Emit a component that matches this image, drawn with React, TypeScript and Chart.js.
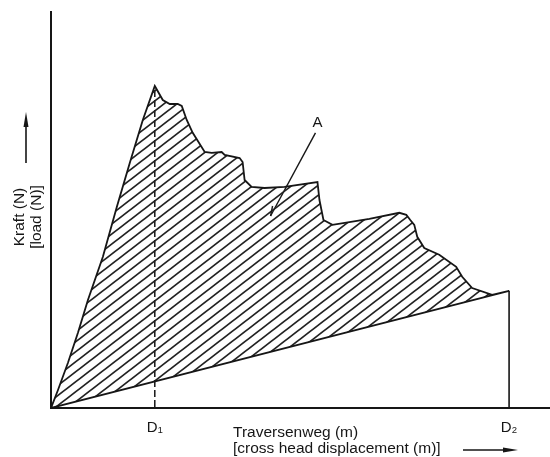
import React, { useEffect, useRef } from "react";
import { Chart, registerables } from "chart.js";

Chart.register(...registerables);

// Load–displacement curve (upper boundary of hatched area A)
const CURVE_X = [0, 1.4, 3.4, 5.4, 7.4, 10.4, 13.2, 15.8, 18.4, 20.8, 22.4, 23.8, 25.4, 26.2, 27.2, 28.4, 30.8, 32.2, 34.2, 34.8, 37.8, 38.4, 38.8, 40.2, 42.8, 46.8, 53.4, 53.8, 54.6, 56.4, 63.8, 69.8, 71.2, 72.0, 72.8, 73.4, 74.8, 77.8, 81.2, 82.4, 84.4, 88.4, 91.8];
const CURVE_Y = [0, 4.5, 11.3, 18.8, 27.0, 37.8, 50.3, 61.3, 72.0, 80.5, 77.0, 76.0, 76.0, 75.5, 72.0, 68.8, 64.0, 63.8, 64.0, 63.3, 62.5, 61.5, 57.0, 55.3, 55.0, 55.3, 56.5, 52.0, 47.0, 45.8, 47.3, 48.8, 48.3, 47.0, 45.8, 42.8, 40.0, 38.3, 35.3, 32.8, 30.0, 28.3, 29.3];
// Unloading secant back to origin (lower boundary of area A)
const SECANT_X = [0];
const SECANT_Y = [0];
// Vertical drop at D1 (peak) and D2 (end)
const D1_LINE_X = [20.8, 20.8];
const D1_LINE_Y = [79.5, 0];
const D2_LINE_X = [91.8, 91.8];
const D2_LINE_Y = [29.3, 0];
// Leader line to area label "A"
const LEADER_X = [53.0, 44.0];
const LEADER_Y = [68.8, 48.0];
const AREA_LABEL = "A";
const AREA_LABEL_X = 53.4;
const AREA_LABEL_Y = 71.3;
// Axis ticks
const TICK_VALUES = [20.8, 91.8];
const TICK_LABELS = ["D\u2081", "D\u2082"];
const X_MAX = 100;
const Y_MAX = 99;
const Y_TITLE = ["Kraft (N)", "[load (N)]"];
const X_TITLE = ["Traversenweg (m)", "[cross head displacement (m)]"];

const FONT = '"Liberation Sans", Arial, Helvetica, sans-serif';
const INK = "#161616";

const pts = (xs: number[], ys: number[]) => xs.map((x, i) => ({ x, y: ys[i] }));

function makeHatch(): CanvasPattern | string {
  const w = 13;
  const h = 10;
  const c = document.createElement("canvas");
  c.width = w;
  c.height = h;
  const ctx = c.getContext("2d");
  if (!ctx) return "rgba(0,0,0,0.2)";
  ctx.strokeStyle = "#222";
  ctx.lineWidth = 1.7;
  for (const k of [-1, 0, 1]) {
    ctx.beginPath();
    ctx.moveTo(-w, 2 * h + k * h);
    ctx.lineTo(2 * w, -h + k * h);
    ctx.stroke();
  }
  return ctx.createPattern(c, "repeat") || "rgba(0,0,0,0.2)";
}

const annotations = {
  id: "annotations",
  afterDraw(chart: any) {
    const { ctx, chartArea, scales } = chart;
    const xs = scales.x;
    const ys = scales.y;
    ctx.save();
    ctx.fillStyle = INK;
    ctx.strokeStyle = INK;

    // Area label
    ctx.font = `15px ${FONT}`;
    ctx.textAlign = "center";
    ctx.textBaseline = "middle";
    ctx.fillText(AREA_LABEL, xs.getPixelForValue(AREA_LABEL_X), ys.getPixelForValue(AREA_LABEL_Y));

    // small barb at the end of the leader line
    const ex = xs.getPixelForValue(LEADER_X[1]);
    const ey = ys.getPixelForValue(LEADER_Y[1]);
    ctx.lineWidth = 1.4;
    ctx.beginPath();
    ctx.moveTo(ex + 2, ey - 10);
    ctx.lineTo(ex, ey);
    ctx.stroke();

    // Y title (rotated)
    const yc = (chartArea.top + chartArea.bottom) / 2 + 7;
    ctx.font = `15.5px ${FONT}`;
    Y_TITLE.forEach((t, i) => {
      ctx.save();
      ctx.translate(chartArea.left - 31 + i * 17, yc);
      ctx.rotate(-Math.PI / 2);
      ctx.textAlign = "center";
      ctx.textBaseline = "middle";
      ctx.fillText(t, 0, 0);
      ctx.restore();
    });
    // Y arrow
    const ax = chartArea.left - 25;
    ctx.lineWidth = 1.6;
    ctx.beginPath();
    ctx.moveTo(ax, yc - 54);
    ctx.lineTo(ax, yc - 95);
    ctx.stroke();
    ctx.beginPath();
    ctx.moveTo(ax, yc - 105);
    ctx.lineTo(ax - 2.5, yc - 90);
    ctx.lineTo(ax + 2.5, yc - 90);
    ctx.closePath();
    ctx.fill();

    // X title
    ctx.font = `15.5px ${FONT}`;
    ctx.textAlign = "left";
    ctx.textBaseline = "alphabetic";
    ctx.fillText(X_TITLE[0], 233, chartArea.bottom + 29);
    ctx.fillText(X_TITLE[1], 233, chartArea.bottom + 45);
    // X arrow
    const ay = chartArea.bottom + 42;
    ctx.beginPath();
    ctx.moveTo(463, ay);
    ctx.lineTo(506, ay);
    ctx.stroke();
    ctx.beginPath();
    ctx.moveTo(518, ay);
    ctx.lineTo(503, ay - 2.5);
    ctx.lineTo(503, ay + 2.5);
    ctx.closePath();
    ctx.fill();
    ctx.restore();
  },
};

export default function App() {
  const ref = useRef<HTMLCanvasElement | null>(null);
  useEffect(() => {
    document.body.style.margin = "0";
    if (!ref.current) return;
    const hatch = makeHatch();
    const chart = new Chart(ref.current, {
      type: "scatter",
      data: {
        datasets: [
          {
            data: [...pts(CURVE_X, CURVE_Y), ...pts(SECANT_X, SECANT_Y)],
            showLine: true,
            fill: "shape",
            backgroundColor: hatch as any,
            borderColor: INK,
            borderWidth: 1.8,
            pointRadius: 0,
            tension: 0,
          },
          {
            data: pts(D1_LINE_X, D1_LINE_Y),
            showLine: true,
            borderColor: INK,
            borderWidth: 1.5,
            borderDash: [7, 3],
            pointRadius: 0,
          },
          {
            data: pts(D2_LINE_X, D2_LINE_Y),
            showLine: true,
            borderColor: INK,
            borderWidth: 1.6,
            pointRadius: 0,
          },
          {
            data: pts(LEADER_X, LEADER_Y),
            showLine: true,
            borderColor: INK,
            borderWidth: 1.4,
            pointRadius: 0,
          },
        ],
      },
      options: {
        responsive: false,
        animation: false,
        devicePixelRatio: 1,
        layout: { padding: { left: 51, top: 12, right: 0, bottom: 0 } },
        plugins: { legend: { display: false }, tooltip: { enabled: false } },
        scales: {
          x: {
            type: "linear",
            min: 0,
            max: X_MAX,
            grid: { display: false, drawTicks: false },
            border: { display: true, color: INK, width: 2 },
            afterBuildTicks: (s: any) => {
              s.ticks = TICK_VALUES.map((v) => ({ value: v }));
            },
            afterFit: (s: any) => {
              s.height = 49;
            },
            ticks: {
              autoSkip: false,
              maxRotation: 0,
              padding: 11,
              color: INK,
              font: { family: FONT, size: 15 },
              callback: (v: any) => {
                const i = TICK_VALUES.indexOf(Number(v));
                return i >= 0 ? TICK_LABELS[i] : "";
              },
            },
          },
          y: {
            type: "linear",
            min: 0,
            max: Y_MAX,
            grid: { display: false, drawTicks: false },
            border: { display: true, color: INK, width: 2 },
            ticks: { display: false },
            afterFit: (s: any) => {
              s.width = 0;
            },
          },
        },
      },
      plugins: [annotations],
    });
    return () => chart.destroy();
  }, []);
  return <canvas ref={ref} width={550} height={457} style={{ display: "block" }} />;
}
